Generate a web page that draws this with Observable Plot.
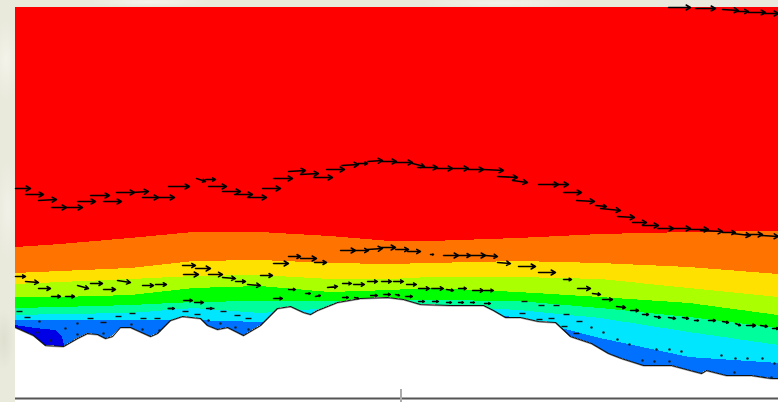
<!DOCTYPE html>
<html><head><meta charset="utf-8">
<script src="https://cdn.jsdelivr.net/npm/d3@7"></script>
<script src="https://cdn.jsdelivr.net/npm/@observablehq/plot@0.6"></script>
<style>html,body{margin:0;padding:0;overflow:hidden;background-color:#e9e9dc;background-image:radial-gradient(ellipse 14px 40px at 6px 60px,#f3f3ea,transparent),radial-gradient(ellipse 12px 50px at 8px 210px,#f1f1e8,transparent),radial-gradient(ellipse 10px 30px at 4px 340px,#dfdfd0,transparent),radial-gradient(ellipse 60px 5px at 150px 2px,#f4f4ec,transparent),radial-gradient(ellipse 80px 5px at 500px 3px,#f2f2e9,transparent)}svg{display:block;background:transparent}</style>
</head><body><div id="c"></div>
<script>
const stations=[15,60,130,193,260,330,390,430,518,600,689,778];
const redOrange=[247,244,238,232,232,236,241,241,238,234,232,231];
const orangeYellow=[273,271,268,261,260,263,264,263,261,263,267,274];
const yellowLime=[284,282,279,276,275,279,279,277,277,279,288,297];
const limeGreen=[297,297,295,288,286,292,290,288,292,297,303,315];
const greenSpring=[308,307,305,302,301,301,300,300,301,308,317,328];
const springCyan=[315,314,313,308,313,308,305,305,310,318,332,345];
const cyanAzure=[320,320,320,320,322,312,312,312,317,338,357,363];
const deepX=[15,35,55,62,64,70];
const deepY=[325,328,330,337,345,360];
const terrainX=[15,33,45,63,77,87,97,105,112,120,130,150,157,170,182,200,207,217,227,243,260,277,290,303,310,317,337,360,387,403,420,450,483,493,505,520,538,555,570,591,608,621,643,671,701,706,726,751,771,778];
const terrainY=[327,335,345,346,338,333,334,338,336,327,327,336,333,320,316,318,325,329,327,335,325,308,306,312,314,310,302,298,297,299,304,305,305,310,317,317,321,322,336,343,353,358,365,365,373,370,375,375,378,378];
const upperArrows=[[15,188,30,188],[25,194,43,194],[38,200,56,199],[51,207,66,207],[66,207,82,207],[77,201,95,201],[90,195,109,195],[103,201,121,201],[116,192,134,192],[132,192,148,191],[142,197,158,197],[158,197,174,197],[168,186,189,186],[196,178,205,181],[205,179,215,179],[208,186,226,186],[222,191,240,191],[234,194,252,194],[247,197,266,197],[262,188,280,188],[273,178,292,178],[288,171,305,170],[300,174,318,173],[313,177,332,177],[326,169,344,169],[341,165,358,164],[358,163,367,163],[367,161,382,160],[380,161,396,161],[393,162,412,162],[412,163,424,166],[417,167,437,167],[435,168,452,168],[452,168,468,168],[468,169,483,169],[483,169,503,170],[497,176,517,177],[512,180,527,182],[538,184,558,184],[552,184,568,184],[563,192,581,192],[576,200,594,201],[595,205,606,206],[600,208,620,210],[617,216,634,217],[632,222,646,222],[642,225,658,225],[657,228,673,228],[673,228,690,228],[688,229,708,229],[700,230,722,231],[722,232,735,232],[732,233,750,235],[745,234,762,234],[760,235,778,236]];
const topArrows=[[668,7,690,7],[695,8,715,8],[722,9,738,10],[735,11,748,11],[748,12,765,12],[762,13,778,13]];
const midArrows=[[15,276,25,276],[25,281,38,282],[38,288,50,288],[51,296,60,296],[65,296,74,296],[77,285,88,288],[90,283,102,283],[103,289,115,289],[117,280,130,282],[142,285,153,285],[155,284,166,284],[183,274,198,274],[182,265,195,265],[195,268,210,268],[208,274,222,274],[222,277,235,278],[235,281,245,281],[247,284,260,285],[260,275,272,275],[273,263,288,263],[288,256,300,256],[300,258,316,258],[314,262,326,262],[340,250,355,250],[355,250,368,250],[367,249,382,248],[380,247,395,247],[395,249,408,249],[407,251,420,251],[430,254,433,254],[443,255,458,255],[458,255,470,255],[470,255,485,255],[485,255,497,256],[497,262,510,263],[518,266,535,266],[538,272,555,272],[563,279,571,279],[577,288,590,288],[592,293,600,294],[602,299,612,299],[616,306,625,307],[630,310,638,310],[642,314,648,314],[654,316,660,317],[668,317,675,318],[682,317,688,318],[694,320,698,320],[708,320,715,320],[722,321,728,322],[735,323,740,325],[746,325,755,325],[760,325,767,326],[772,328,778,328]];
const lowArrows=[[183,300,192,300],[194,302,203,302],[168,308,174,308],[206,308,212,308],[273,298,282,298],[288,289,295,289],[305,293,310,293],[315,296,320,295],[327,287,337,286],[342,283,351,283],[353,284,364,284],[367,281,377,281],[381,281,391,281],[393,281,403,281],[406,284,416,284],[418,288,429,288],[431,288,443,288],[446,289,453,290],[458,288,466,288],[472,290,483,290],[484,290,493,290],[342,297,348,297],[354,297,358,298],[370,295,377,295],[383,294,390,294],[395,294,399,295],[405,296,412,296],[418,301,424,301],[432,301,438,301],[446,302,451,302],[458,302,463,302],[470,302,474,302],[484,303,490,303]];
const dashX=[19,27,90,103,118,132,143,157,170,185,197,211,223,237,248,524,541,556,566,579,522,539,551,564,576];
const dashY=[311,317,318,322,316,313,318,318,308,311,314,308,311,315,318,301,305,305,314,321,313,319,318,326,333];
const dotX=[39,77,65,37,50,77,103,131,142,159,208,220,235,248,591,603,617,629,656,669,681,721,735,747,762,774,642,654,669,734,771];
const dotY=[321,323,328,332,340,334,333,324,329,330,320,323,327,329,327,332,339,344,349,349,351,355,358,358,358,363,360,361,361,372,377];

const panelTop=7, panelBottom=402, panelLeft=15, panelRight=778;
const bandColors=["#ff7300","#ffe100","#aaff00","#00ff00","#00ff9c","#00e6ff","#0070ff"];
const bandEdges=[redOrange,orangeYellow,yellowLime,limeGreen,greenSpring,springCyan,cyanAzure];
const crisp={shapeRendering:"crispEdges"};
const arrow=(rows,w,h)=>Plot.arrow(rows,{x1:d=>d[0],y1:d=>d[1],x2:d=>d[2],y2:d=>d[3],stroke:"#000",strokeWidth:w,headLength:h,bend:0,insetStart:0,insetEnd:0});

const marks=[
  Plot.areaY(stations,{x:d=>d,y1:()=>panelBottom,y2:()=>panelTop,fill:"#ff0000",...crisp}),
  ...bandEdges.map((edge,k)=>Plot.areaY(stations,{x:d=>d,y1:()=>panelBottom,y2:(d,i)=>edge[i],fill:bandColors[k],...crisp})),
  Plot.areaY(deepX,{x:d=>d,y1:()=>panelBottom,y2:(d,i)=>deepY[i],fill:"#0000e6",...crisp}),
  Plot.areaY(terrainX,{x:d=>d,y1:()=>panelBottom,y2:(d,i)=>terrainY[i],fill:"#fff",...crisp}),
  Plot.line(terrainX,{x:d=>d,y:(d,i)=>terrainY[i]+0.7,stroke:"#aaa",strokeWidth:1}),
  Plot.line(terrainX,{x:d=>d,y:(d,i)=>terrainY[i],stroke:"#111",strokeWidth:1.1}),
  Plot.ruleY([398],{x1:panelLeft,x2:panelRight,stroke:"#555",strokeWidth:2}),
  Plot.ruleX([400.5],{y1:389,y2:panelBottom,stroke:"#aaa",strokeWidth:2}),
  arrow(upperArrows,1.5,5),
  arrow(topArrows,1.5,5),
  arrow(midArrows,1.5,5),
  arrow(lowArrows,1.4,4),
  Plot.link(dashX,{x1:d=>d-3,x2:d=>d+3,y1:(d,i)=>dashY[i],y2:(d,i)=>dashY[i],stroke:"#111",strokeWidth:1.4}),
  Plot.dot(dotX,{x:d=>d,y:(d,i)=>dotY[i],r:1.2,fill:"#123"})
];
document.getElementById("c").append(Plot.plot({
  width:778,height:402,margin:0,
  x:{domain:[0,778],axis:null},
  y:{domain:[402,0],axis:null},
  style:{background:"transparent"},
  marks
}));
</script></body></html>
